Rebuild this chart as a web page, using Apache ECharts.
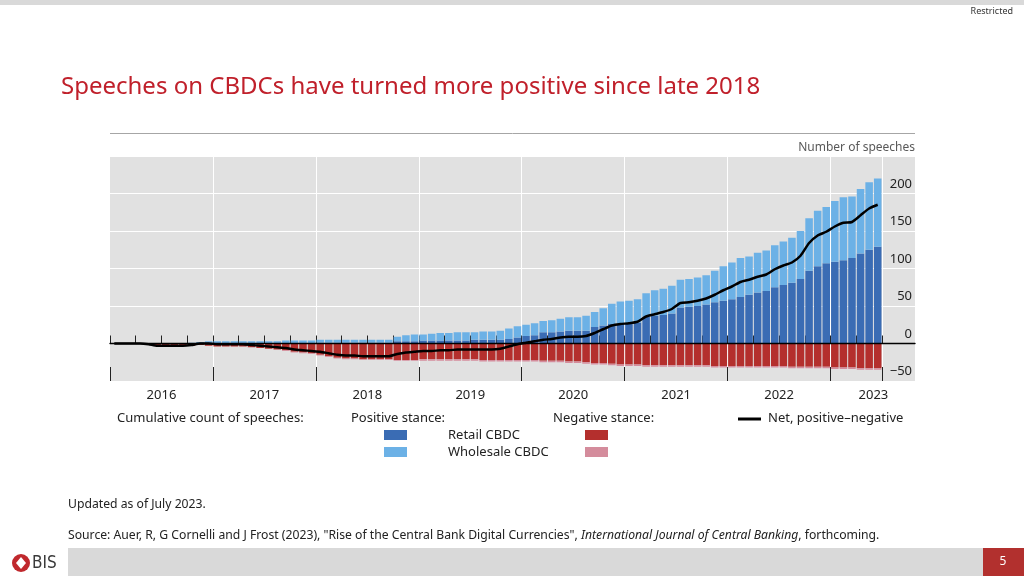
<!DOCTYPE html>
<html>
<head>
<meta charset="utf-8">
<script src="https://cdn.jsdelivr.net/npm/echarts@6/dist/echarts.min.js"></script>
<style>
html,body{margin:0;padding:0;background:#fff;}
#c{width:1024px;height:576px;}
</style>
</head>
<body>
<div id="c"></div>
<script>
// ---- Data (monthly cumulative counts, Jan 2016 – Jun 2023) ----
const years = ['2016','2017','2018','2019','2020','2021','2022','2023'];
const monthsInLastYear = 6;
const categories = [];
years.forEach((y, yi) => {
  const n = yi === years.length - 1 ? monthsInLastYear : 12;
  for (let m = 1; m <= n; m++) categories.push(y + '-' + (m < 10 ? '0' + m : m));
});

const posRetail = [
  0,0,0,0,0,0,0,0,0,0,0,0,
  0,0,0,0,0,0,0,0,0,0,0,0,
  1,1,1,1,1,1,1,1,1,3,3,3,
  4,4,4,4,4,4,5,5,5,5,6,8,
  10,11,15,15,16,17,17,17,22,24,26,27,
  27,28,36,37,38,40,48,49,50,52,55,57,
  59,62,65,68,70,75,78,81,86,97,103,107,
  109,111,114,120,125,129
];
const posWholesale = [
  0,0,0,0,0,0,0,0,0,1,2,3,
  3,3,3,3,3,3,3,3,4,4,4,4,
  4,4,4,4,4,4,4,4,4,6,8,9,
  8,9,10,10,11,11,10,11,11,12,14,15,
  15,16,15,16,17,18,18,20,20,23,27,29,
  30,31,31,34,35,37,37,37,38,39,42,46,
  49,52,51,53,54,56,58,60,64,70,74,75,
  81,84,82,86,90,91
];
const negRetail = [
  0,0,0,0,-1,-3,-3,-3,-3,-3,-2,-3,
  -4,-4,-4,-4,-5,-6,-7,-8,-9,-11,-12,-13,
  -15,-17,-19,-20,-20,-21,-21,-21,-21,-22,-22,-22,
  -21,-21,-21,-21,-21,-21,-21,-22,-22,-22,-22,-22,
  -22,-22,-23,-23,-23,-24,-24,-25,-26,-26,-27,-28,
  -28,-28,-29,-29,-29,-29,-29,-29,-29,-29,-30,-30,
  -30,-30,-30,-30,-30,-30,-30,-31,-31,-31,-31,-31,
  -32,-32,-32,-33,-33,-33
];
const negWholesale = [
  0,0,0,0,0,0,0,0,0,0,0,0,
  0,0,0,0,0,0,0,0,-1,-1,-1,-1,
  -1,-1,-1,-1,-1,-1,-1,-1,-1,-1,-1,-1,
  -2,-2,-2,-2,-2,-2,-2,-2,-2,-2,-2,-2,
  -2,-2,-2,-2,-2,-2,-2,-2,-2,-2,-2,-2,
  -2,-2,-2,-2,-2,-2,-2,-2,-2,-2,-2,-2,
  -2,-2,-2,-2,-2,-2,-2,-2,-2,-2,-2,-2,
  -2,-2,-2,-2,-2,-2
];
const netLine = [
  0,0,0,0,-1,-3,-3,-3,-3,-2,0,0,
  -1,-1,-1,-1,-2,-3,-4,-5,-6,-8,-9,-10,
  -11,-13,-15,-16,-16,-17,-17,-17,-17,-14,-12,-11,
  -10,-10,-9,-9,-8,-8,-8,-8,-8,-7,-4,-1,
  1,3,5,6,8,9,9,10,14,19,24,26,
  27,29,36,39,42,46,54,55,57,60,65,71,
  76,82,85,89,92,99,104,108,117,134,144,149,
  156,161,162,171,180,185
];
const yTicks = { min: -50, max: 250, step: 50 };

// ---- Styles ----
const FONT = 'Noto Sans';
const C_RETAIL = '#3a6cb4', C_WHOLE = '#6cb1e6', C_NEGR = '#b42f2d', C_NEGW = '#d48c9c';

const chart = echarts.init(document.getElementById('c'), null, {renderer: 'canvas'});

const barCommon = { type: 'bar', stack: 'total', barCategoryGap: '12%', silent: true, xAxisIndex: 0, yAxisIndex: 0 };

chart.setOption({
  animation: false,
  textStyle: { fontFamily: FONT },
  grid: [
    { left: 110, right: 142, top: 156, bottom: 195, show: false },
    { left: 110, right: 109, top: 156, bottom: 195, show: true, backgroundColor: '#e1e1e1', borderWidth: 0 }
  ],
  xAxis: [
    {
      type: 'category', data: categories, gridIndex: 0,
      axisLine: { show: false },
      axisTick: { show: true, inside: true, length: 8, interval: (i) => i % 3 === 0, lineStyle: { color: '#222', width: 1 } },
      axisLabel: {
        interval: (i) => i % 12 === 5 || i === 88,
        formatter: (v) => v.slice(0, 4),
        padding: [0, 0, 0, 8.6], margin: 8, fontSize: 13, color: '#222', fontFamily: FONT
      },
      splitLine: { show: true, interval: (i) => i % 12 === 0 && i > 0, lineStyle: { color: '#ffffff', width: 1 } }
    },
    {
      type: 'category', data: categories, gridIndex: 0, position: 'bottom',
      axisLine: { show: false },
      axisTick: { show: true, inside: true, length: 14, interval: (i) => i % 12 === 0, lineStyle: { color: '#222', width: 1 } },
      axisLabel: { show: false },
      splitLine: { show: false }
    },
    {
      type: 'value', gridIndex: 1, min: 0, max: 1, z: 10,
      axisLine: { show: true, onZero: true, lineStyle: { color: '#000', width: 1.4 } },
      axisTick: { show: false }, axisLabel: { show: false }, splitLine: { show: false }
    }
  ],
  yAxis: [
    {
      type: 'value', gridIndex: 0, min: yTicks.min, max: yTicks.max, interval: yTicks.step,
      axisLine: { show: false }, axisTick: { show: false }, axisLabel: { show: false }, splitLine: { show: false }
    },
    {
      type: 'value', gridIndex: 1, position: 'right', min: yTicks.min, max: yTicks.max, interval: yTicks.step,
      axisLine: { show: false }, axisTick: { show: false },
      axisLabel: {
        inside: true, margin: 3, align: 'right', verticalAlign: 'bottom', padding: [0, 0, 3, 0],
        fontSize: 13, color: '#222', fontFamily: FONT,
        formatter: (v) => v === yTicks.max ? '' : (v < 0 ? '\u2212' + Math.abs(v) : String(v))
      },
      splitLine: { show: true, lineStyle: { color: '#ffffff', width: 1.2 } }
    }
  ],
  series: [
    Object.assign({ name: 'Retail CBDC (positive)', data: posRetail, itemStyle: { color: C_RETAIL } }, barCommon),
    Object.assign({ name: 'Wholesale CBDC (positive)', data: posWholesale, itemStyle: { color: C_WHOLE } }, barCommon),
    Object.assign({ name: 'Retail CBDC (negative)', data: negRetail, itemStyle: { color: C_NEGR } }, barCommon),
    Object.assign({ name: 'Wholesale CBDC (negative)', data: negWholesale, itemStyle: { color: C_NEGW } }, barCommon),
    {
      name: 'Net, positive–negative', type: 'line', data: netLine, xAxisIndex: 0, yAxisIndex: 0,
      showSymbol: false, smooth: 0.2, z: 12, lineStyle: { color: '#000', width: 2.5 }, silent: true
    }
  ],
  graphic: [
    { type: 'rect', shape: { x: 0, y: 0, width: 1024, height: 5 }, style: { fill: '#d9d9d9' } },
    { type: 'text', x: 1013, y: 11, style: { text: 'Restricted', fontSize: 9, fill: '#333', align: 'right', verticalAlign: 'middle', fontFamily: FONT } },
    { type: 'text', x: 61, y: 87, style: { text: 'Speeches on CBDCs have turned more positive since late 2018', fontSize: 24, fill: '#c0202b', verticalAlign: 'middle', fontFamily: FONT } },
    { type: 'line', shape: { x1: 110, y1: 133.5, x2: 915, y2: 133.5 }, style: { stroke: '#a6a6a6', lineWidth: 1 } },
    { type: 'text', x: 915, y: 148, style: { text: 'Number of speeches', fontSize: 12, fill: '#595959', align: 'right', verticalAlign: 'middle', fontFamily: FONT } },
    // legend
    { type: 'text', x: 117, y: 418, style: { text: 'Cumulative count of speeches:', fontSize: 13, fill: '#222', verticalAlign: 'middle', fontFamily: FONT } },
    { type: 'text', x: 351, y: 418, style: { text: 'Positive stance:', fontSize: 13, fill: '#222', verticalAlign: 'middle', fontFamily: FONT } },
    { type: 'text', x: 553, y: 418, style: { text: 'Negative stance:', fontSize: 13, fill: '#222', verticalAlign: 'middle', fontFamily: FONT } },
    { type: 'line', shape: { x1: 738, y1: 419, x2: 761, y2: 419 }, style: { stroke: '#000', lineWidth: 3 } },
    { type: 'text', x: 768, y: 418, style: { text: 'Net, positive\u2013negative', fontSize: 13, fill: '#222', verticalAlign: 'middle', fontFamily: FONT } },
    { type: 'rect', shape: { x: 384, y: 430, width: 23, height: 10 }, style: { fill: C_RETAIL } },
    { type: 'rect', shape: { x: 384, y: 447, width: 23, height: 10 }, style: { fill: C_WHOLE } },
    { type: 'rect', shape: { x: 585, y: 430, width: 23, height: 10 }, style: { fill: C_NEGR } },
    { type: 'rect', shape: { x: 585, y: 447, width: 23, height: 10 }, style: { fill: C_NEGW } },
    { type: 'text', x: 448, y: 435, style: { text: 'Retail CBDC', fontSize: 13, fill: '#222', verticalAlign: 'middle', fontFamily: FONT } },
    { type: 'text', x: 448, y: 452, style: { text: 'Wholesale CBDC', fontSize: 13, fill: '#222', verticalAlign: 'middle', fontFamily: FONT } },
    // notes
    { type: 'text', x: 68, y: 505, style: { text: 'Updated as of July 2023.', fontSize: 12.2, fill: '#222', verticalAlign: 'middle', fontFamily: FONT } },
    { type: 'text', x: 68, y: 536, style: {
        text: '{n|Source: Auer, R, G Cornelli and J Frost (2023), "Rise of the Central Bank Digital Currencies", }{i|International Journal of Central Banking}{n|, forthcoming.}',
        verticalAlign: 'middle', fontFamily: FONT,
        rich: { n: { fontSize: 12.2, fill: '#222', fontFamily: FONT }, i: { fontSize: 12.2, fill: '#222', fontStyle: 'italic', fontFamily: FONT } }
    } },
    // footer
    { type: 'rect', shape: { x: 68, y: 548, width: 915, height: 28 }, style: { fill: '#d9d9d9' } },
    { type: 'rect', shape: { x: 983, y: 548, width: 41, height: 28 }, style: { fill: '#b2302e' } },
    { type: 'text', x: 1003, y: 562, style: { text: '5', fontSize: 12, fill: '#fff', align: 'center', verticalAlign: 'middle', fontFamily: FONT } },
    { type: 'circle', shape: { cx: 21, cy: 563, r: 9 }, style: { fill: '#c0282d' } },
    { type: 'polygon', shape: { points: [[21, 557], [26, 563], [21, 569], [16, 563]] }, style: { fill: '#fff' } },
    { type: 'text', x: 32, y: 564, style: { text: 'BIS', fontSize: 17, fill: '#3a3a3a', verticalAlign: 'middle', fontFamily: 'DejaVu Sans Condensed' } }
  ]
});
</script>
</body>
</html>
